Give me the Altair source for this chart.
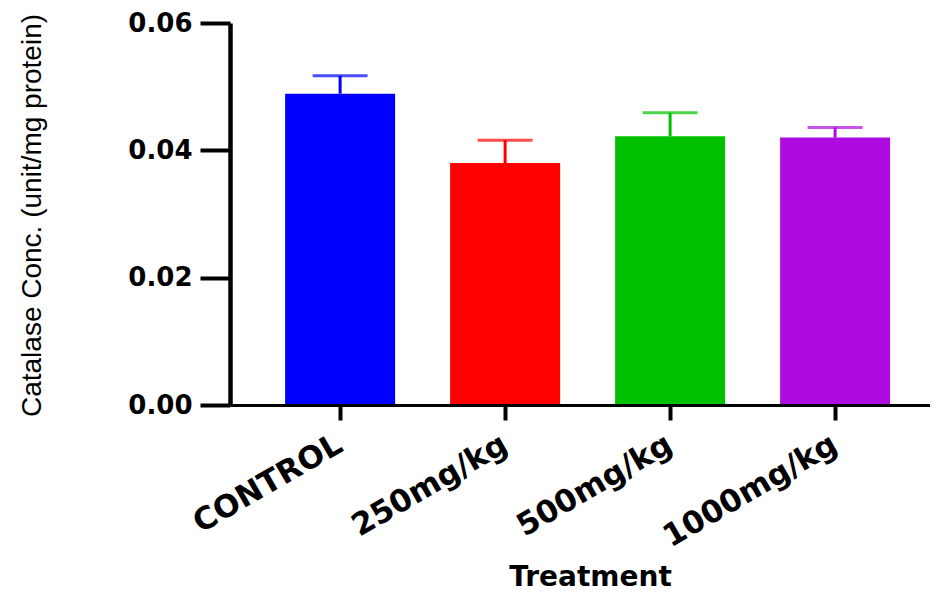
import altair as alt
import pandas as pd

categories = ["CONTROL", "250mg/kg", "500mg/kg", "1000mg/kg"]
means = [0.0489, 0.0380, 0.0422, 0.0420]
sems = [0.0028, 0.0036, 0.0037, 0.0016]
colors = ["#0000FF", "#FF0000", "#00C000", "#AE0BE0"]

df = pd.DataFrame({
    "Treatment": categories,
    "mean": means,
    "upper": [m + s for m, s in zip(means, sems)],
})

x_enc = alt.X(
    "Treatment:N",
    sort=categories,
    scale=alt.Scale(paddingInner=1/3, paddingOuter=0.288, align=0.58),
    axis=alt.Axis(
        title="Treatment",
        titleFont="DejaVu Sans", titleFontSize=28, titleFontWeight="bold",
        titleX=360, titleY=172, titleBaseline="middle", titleAlign="center",
        labelFont="DejaVu Sans", labelFontSize=31, labelFontWeight="bold",
        labelAngle=-30, labelAlign="right", labelBaseline="middle",
        labelPadding=22, labelColor="black", labelLimit=0,
        domainColor="black", domainWidth=3,
        tickColor="black", tickWidth=4, tickSize=15,
        grid=False, zindex=1,
    ),
)

color_enc = alt.Color("Treatment:N", sort=categories,
                      scale=alt.Scale(domain=categories, range=colors), legend=None)

y_scale = alt.Scale(domain=[0, 0.06], nice=False)

bars = alt.Chart(df).mark_bar(size=110).encode(
    x=x_enc,
    y=alt.Y("mean:Q", scale=y_scale,
            axis=alt.Axis(
                title="Catalase Conc. (unit/mg protein)",
                titleFont="Liberation Sans", titleFontSize=28, titleFontWeight="normal",
                titleAngle=270, titleX=-198, titleY=192,
                titleAlign="center", titleBaseline="middle",
                values=[0, 0.02, 0.04, 0.06], format=".2f",
                labelFont="DejaVu Sans", labelFontSize=26, labelFontWeight="bold",
                labelPadding=8, labelColor="black",
                domainColor="black", domainWidth=4.5,
                tickColor="black", tickWidth=4, tickSize=30,
                grid=False, zindex=1,
            )),
    color=color_enc,
)

rules = alt.Chart(df).mark_rule(strokeWidth=3).encode(
    x=alt.X("Treatment:N", sort=categories),
    y="mean:Q",
    y2="upper:Q",
    color=color_enc,
)

caps = alt.Chart(df).mark_tick(thickness=3, size=55).encode(
    x=alt.X("Treatment:N", sort=categories),
    y="upper:Q",
    color=color_enc,
)

chart = alt.layer(bars, rules, caps).properties(
    width=700, height=382,
    background="white",
    autosize=alt.AutoSizeParams(type="none"),
    padding={"left": 222, "top": 15, "right": 0, "bottom": 186},
).configure_view(strokeWidth=0).configure_axis(grid=False)

chart.save("out.html", embed_options={"renderer": "svg", "actions": False})
